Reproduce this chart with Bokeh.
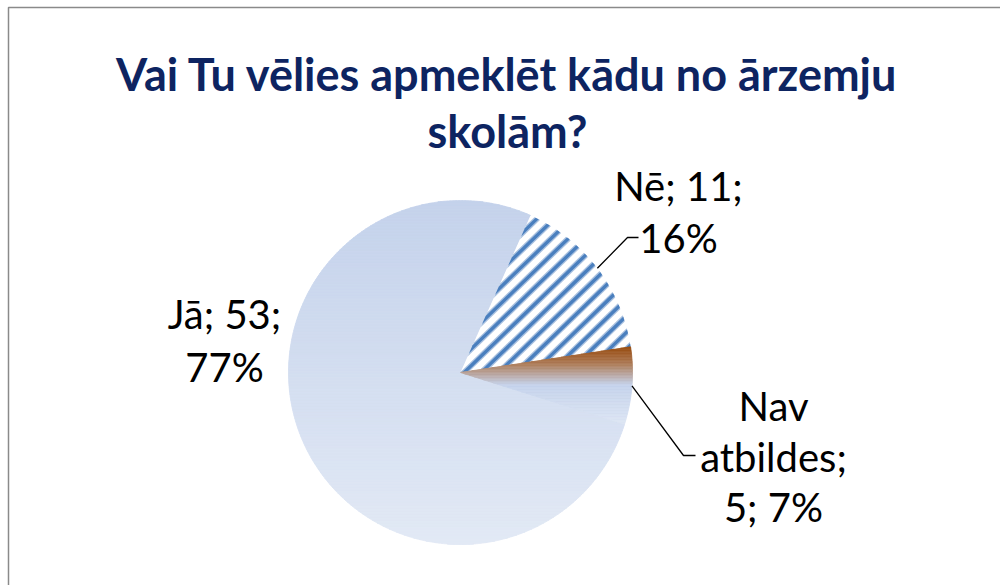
import numpy as np
from bokeh.plotting import figure
from bokeh.models import Range1d
from bokeh.core.properties import value
from bokeh.embed import file_html
from bokeh.resources import INLINE

# ---- data ----
title_lines = ["Vai Tu vēlies apmeklēt kādu no ārzemju", "skolām?"]
categories = ["Jā", "Nē", "Nav atbildes"]
counts = [53, 11, 5]

total = sum(counts)
pcts = [round(100 * c / total) for c in counts]

# ---- layout (screen pixels, y down) ----
W, H = 1000, 585
cx, cy, R = 460.0, 372.0, 172.0
start_deg = 107.5  # clockwise from 12 o'clock where first slice starts

p = figure(width=W, height=H, x_range=Range1d(0, W), y_range=Range1d(H, 0),
           output_backend="svg", toolbar_location=None, min_border=0,
           x_axis_location=None, y_axis_location=None)
p.grid.visible = False
p.outline_line_color = None
p.background_fill_color = "white"
p.border_fill_color = "white"

# chart border
p.quad(left=[8], right=[1200], top=[7], bottom=[800], fill_color=None,
       line_color="#8a8a8a", line_width=1.5)

def wedge_poly(a0, a1):
    n = max(8, int(abs(a1 - a0) * 2))
    t = np.radians(np.linspace(a0, a1, n))
    xs = [cx] + list(cx + R * np.sin(t))
    ys = [cy] + list(cy - R * np.cos(t))
    return list(zip(xs, ys))

def clip_lin(poly, nx, ny, c, keep_greater):
    """clip polygon against half-plane nx*x+ny*y >= c (or <= c)"""
    out = []
    n = len(poly)
    f = lambda P: nx * P[0] + ny * P[1]
    for i in range(n):
        P = poly[i]; Q = poly[(i + 1) % n]
        fp, fq = f(P), f(Q)
        inP = fp >= c if keep_greater else fp <= c
        inQ = fq >= c if keep_greater else fq <= c
        if inP:
            out.append(P)
        if inP != inQ:
            t = (c - fp) / (fq - fp)
            out.append((P[0] + t * (Q[0] - P[0]), P[1] + t * (Q[1] - P[1])))
    return out

def band(poly, nx, ny, a, b):
    return clip_lin(clip_lin(poly, nx, ny, a, True), nx, ny, b, False)

def hex2rgb(h):
    h = h.lstrip("#")
    return np.array([int(h[i:i + 2], 16) for i in (0, 2, 4)], dtype=float)

def grad_color(stops, f):
    for (f0, c0), (f1, c1) in zip(stops[:-1], stops[1:]):
        if f <= f1:
            u = 0 if f1 == f0 else (f - f0) / (f1 - f0)
            c = hex2rgb(c0) * (1 - u) + hex2rgb(c1) * u
            return "#%02x%02x%02x" % tuple(int(round(v)) for v in c)
    return stops[-1][1]

def gradient_patches(poly, stops, step=1.5):
    ys = [q[1] for q in poly]
    y0, y1 = min(ys), max(ys)
    pxs, pys, cols = [], [], []
    y = y0
    while y < y1:
        bd = band(poly, 0, 1, y, min(y + step, y1))
        if len(bd) >= 3:
            f = ((y + step / 2) - y0) / (y1 - y0)
            pxs.append([q[0] for q in bd]); pys.append([q[1] for q in bd])
            cols.append(grad_color(stops, min(max(f, 0), 1)))
        y += step
    p.patches(pxs, pys, fill_color=cols, line_color=cols, line_width=0.8)

def striped_patches(poly, color, soft, period=12.0, width=3.3, edge=1.3, ang=44):
    p.patches([[q[0] for q in poly]], [[q[1] for q in poly]], fill_color="white",
              line_color=None)
    a = np.radians(ang)
    nx, ny = np.sin(a), np.cos(a)
    vs = [nx * q[0] + ny * q[1] for q in poly]
    v0, v1 = min(vs), max(vs)
    soft_x, soft_y, core_x, core_y = [], [], [], []
    k = np.floor(v0 / period) - 1
    while k * period < v1 + period:
        s = k * period
        bd = band(poly, nx, ny, s - edge, s + width + edge)
        if len(bd) >= 3:
            soft_x.append([q[0] for q in bd]); soft_y.append([q[1] for q in bd])
        bd = band(poly, nx, ny, s, s + width)
        if len(bd) >= 3:
            core_x.append([q[0] for q in bd]); core_y.append([q[1] for q in bd])
        k += 1
    p.patches(soft_x, soft_y, fill_color=soft, line_color=None)
    p.patches(core_x, core_y, fill_color=color, line_color=None)

# angles
angles = [start_deg]
for c in counts:
    angles.append(angles[-1] + 360.0 * c / total)

styles = {
    "Jā": dict(grad=[(0, "#c4d2eb"), (1, "#e2e9f5")]),
    "Nē": dict(stripe=("#4a7fbe", "#a9c1e0")),
    "Nav atbildes": dict(grad=[(0, "#974a0c"), (0.22, "#ad7a55"), (0.5, "#c5d3ec"), (1, "#dde5f3")]),
}

mids = []
for cat, a0, a1 in zip(categories, angles[:-1], angles[1:]):
    poly = wedge_poly(a0, a1)
    mids.append((a0 + a1) / 2)
    st = styles[cat]
    if "grad" in st:
        gradient_patches(poly, st["grad"])
    else:
        striped_patches(poly, *st["stripe"])

# labels
label_texts = {
    "Jā": [f"{categories[0]}; {counts[0]};", f"{pcts[0]}%"],
    "Nē": [f"{categories[1]}; {counts[1]};", f"{pcts[1]}%"],
    "Nav atbildes": categories[2].split(" ")[:1] + [categories[2].split(" ")[1] + ";",
                                                    f"{counts[2]}; {pcts[2]}%"],
}
label_pos = {
    "Jā": (224, [313, 366]),
    "Nē": (678, [185, 237]),
    "Nav atbildes": (773, [405, 456, 506]),
}
tx, ty, tt = [], [], []
for cat in categories:
    x0, ylist = label_pos[cat]
    for line, yy in zip(label_texts[cat], ylist):
        tx.append(x0); ty.append(yy); tt.append(line)
p.text(x=tx, y=ty, text=tt, text_font=value("Lato"), text_font_size="40px",
       text_color="#000000", text_align="center", text_baseline="alphabetic")

# leader lines
elbows = {"Nē": [(627, 237), (638, 237)], "Nav atbildes": [(683, 455), (695, 455)]}
lx, ly = [], []
for cat, m in zip(categories, mids):
    if cat in elbows:
        t = np.radians(m)
        pts = [(cx + R * np.sin(t), cy - R * np.cos(t))] + elbows[cat]
        lx.append([q[0] for q in pts]); ly.append([q[1] for q in pts])
p.multi_line(lx, ly, line_color="#000000", line_width=1.3)

# title
p.text(x=[507, 507], y=[73, 130], text=title_lines, text_font=value("Lato"),
       text_font_style="bold", text_font_size="45px", text_color="#0d2461",
       text_align="center", text_baseline="alphabetic")

open("out.html", "w").write(file_html(p, INLINE))
